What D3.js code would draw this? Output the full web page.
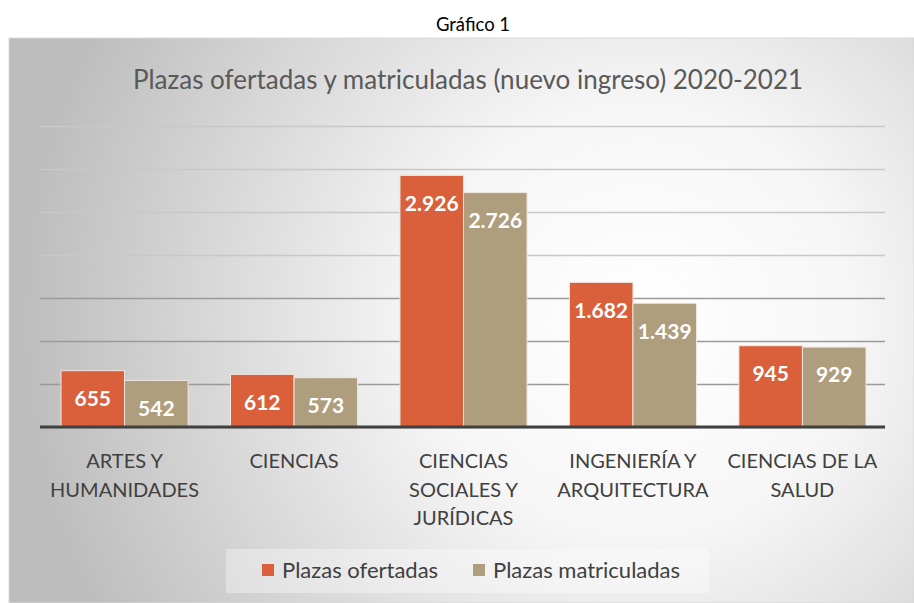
<!DOCTYPE html>
<html>
<head>
<meta charset="utf-8">
<script src="https://cdn.jsdelivr.net/npm/d3@7"></script>
<style>
  body { margin: 0; background: #fff; }
  svg { display: block; font-family: Lato, "Open Sans", sans-serif; }
</style>
</head>
<body>
<svg id="chart" width="914" height="603"></svg>
<script>
// data
var categories = [
    ["ARTES Y", "HUMANIDADES"],
    ["CIENCIAS"],
    ["CIENCIAS", "SOCIALES Y", "JURÍDICAS"],
    ["INGENIERÍA Y", "ARQUITECTURA"],
    ["CIENCIAS DE LA", "SALUD"]
];
var ofertadas = [655, 612, 2926, 1682, 945];
var matriculadas = [542, 573, 2726, 1439, 929];
var seriesNames = ["Plazas ofertadas", "Plazas matriculadas"];
var yTicks = [0, 500, 1000, 1500, 2000, 2500, 3000, 3500];

var colors = ["#D9603B", "#AE9E7E"];

var svg = d3.select("svg#chart");

// outer caption
svg.append("text")
    .attr("x", 473)
    .attr("y", 31)
    .attr("text-anchor", "middle")
    .style("font-size", "18.5px")
    .style("fill", "#000")
    .text("Gráfico 1");

// chart box background
var defs = svg.append("defs");
var grad = defs.append("radialGradient")
    .attr("id", "bg")
    .attr("gradientUnits", "userSpaceOnUse")
    .attr("cx", 640).attr("cy", 320).attr("r", 620);
grad.append("stop").attr("offset", "0%").attr("stop-color", "#ffffff");
grad.append("stop").attr("offset", "35%").attr("stop-color", "#f6f6f6");
grad.append("stop").attr("offset", "100%").attr("stop-color", "#bdbdbd");

svg.append("rect")
    .attr("x", 9).attr("y", 38)
    .attr("width", 914 - 9).attr("height", 603 - 38)
    .attr("fill", "url(#bg)")
    .attr("stroke", "#d9d9d9")
    .attr("stroke-width", 1);

svg.append("text")
    .attr("x", 468)
    .attr("y", 89)
    .attr("text-anchor", "middle")
    .style("font-size", "26px")
    .style("fill", "#595959")
    .text("Plazas ofertadas y matriculadas (nuevo ingreso) 2020-2021");

var margin = { top: 126, left: 40, right: 27, bottom: 176 },
    width = 914 - margin.left - margin.right,
    height = 603 - margin.top - margin.bottom;

var x = d3.scaleBand()
    .domain(d3.range(categories.length))
    .range([0, width])
    .paddingInner(0.25)
    .paddingOuter(0.124);

var x1 = d3.scaleBand()
    .domain([0, 1])
    .range([0, x.bandwidth()]);

var y = d3.scaleLinear()
    .domain([0, 3500])
    .range([height, 0]);

var g = svg.append("g")
    .attr("transform", "translate(" + margin.left + "," + margin.top + ")");

// gridlines
g.append("g")
    .attr("class", "grid")
    .call(d3.axisLeft(y).tickValues(yTicks).tickSize(-(width - 2)).tickFormat(""))
    .call(function (s) { s.select(".domain").remove(); })
    .selectAll("line")
    .attr("stroke", function (d) { return d < 2000 ? "#9a9a9a" : "#c8c8c8"; })
    .attr("stroke-width", 1.5);

var groups = g.selectAll(".cat")
    .data(categories.map(function (c, i) { return { i: i, vals: [ofertadas[i], matriculadas[i]] }; }))
    .enter()
    .append("g")
    .attr("class", "cat")
    .attr("transform", function (d) { return "translate(" + x(d.i) + ",0)"; });

groups.selectAll("rect")
    .data(function (d) { return d.vals.map(function (v, k) { return { v: v, k: k }; }); })
    .enter()
    .append("rect")
    .attr("x", function (d) { return x1(d.k); })
    .attr("y", function (d) { return y(d.v); })
    .attr("width", x1.bandwidth())
    .attr("height", function (d) { return height - y(d.v); })
    .attr("fill", function (d) { return colors[d.k]; })
    .attr("stroke", "#f2e6e0")
    .attr("stroke-width", 1);

var fmt = d3.formatLocale({ decimal: ",", thousands: ".", grouping: [3], currency: ["", "€"] }).format(",");

groups.selectAll("text.lbl")
    .data(function (d) { return d.vals.map(function (v, k) { return { v: v, k: k }; }); })
    .enter()
    .append("text")
    .attr("class", "lbl")
    .attr("x", function (d) { return x1(d.k) + x1.bandwidth() / 2; })
    .attr("y", function (d) { return y(d.v) + 28; })
    .attr("dy", "0.35em")
    .attr("text-anchor", "middle")
    .style("font-size", "21px")
    .style("font-weight", "bold")
    .style("fill", "#fff")
    .text(function (d) { return fmt(d.v); });

// baseline
g.append("line")
    .attr("x1", 0).attr("x2", width - 2)
    .attr("y1", y(0)).attr("y2", y(0))
    .attr("stroke", "#404040")
    .attr("stroke-width", 3);

// category labels
var xAxis = g.append("g")
    .attr("transform", "translate(0," + height + ")");
xAxis.selectAll("text")
    .data(categories)
    .enter()
    .append("text")
    .attr("x", function (d, i) { return x(i) + x.bandwidth() / 2; })
    .attr("y", 41)
    .attr("text-anchor", "middle")
    .style("font-size", "20px")
    .style("fill", "#404040")
    .each(function (d) {
        var t = d3.select(this);
        d.forEach(function (line, j) {
            t.append("tspan")
                .attr("x", t.attr("x"))
                .attr("dy", j === 0 ? 0 : 28.5)
                .text(line);
        });
    });

// legend
var legend = svg.append("g");
legend.append("rect")
    .attr("x", 226).attr("y", 549)
    .attr("width", 483).attr("height", 44)
    .attr("fill", "#ffffff")
    .attr("fill-opacity", 0.35);

var legendX = [262, 473];
var items = legend.selectAll(".item")
    .data(seriesNames)
    .enter()
    .append("g")
    .attr("transform", function (d, i) { return "translate(" + legendX[i] + ",564)"; });
items.append("rect")
    .attr("width", 12).attr("height", 12)
    .attr("fill", function (d, i) { return colors[i]; });
items.append("text")
    .attr("x", 20)
    .attr("y", 6)
    .attr("dy", "0.35em")
    .style("font-size", "22px")
    .style("fill", "#404040")
    .text(function (d) { return d; });
</script>
</body>
</html>
